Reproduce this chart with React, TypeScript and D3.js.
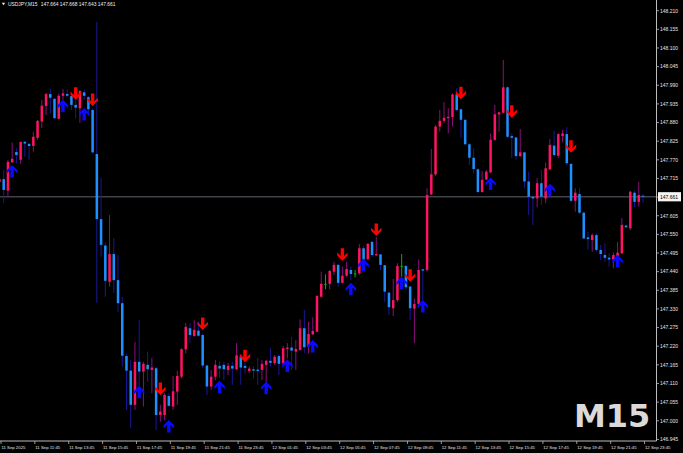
import React from 'react';
import * as d3 from 'd3';

// ---------- data (bar -1 .. 151, M15 bars from 11 Sep 09:30) ----------
const firstBar = -1;
const opens = [
  147.705,147.713,147.679,147.763,147.793,147.770,147.823,147.817,147.811,147.835,
  147.883,147.929,147.964,147.950,147.891,147.959,147.964,147.958,147.932,147.922,
  147.969,147.955,147.917,147.787,147.595,147.517,147.410,147.492,147.415,147.347,
  147.191,147.148,147.047,147.174,147.145,147.165,147.150,147.155,147.017,147.017,
  147.073,147.042,147.086,147.130,147.211,147.273,147.250,147.266,147.253,147.163,
  147.101,147.130,147.162,147.165,147.150,147.162,147.152,147.189,147.162,147.147,
  147.152,147.151,147.150,147.165,147.177,147.170,147.191,147.170,147.212,147.216,
  147.204,147.209,147.273,147.219,147.255,147.263,147.366,147.404,147.404,147.440,
  147.460,147.407,147.428,147.445,147.435,147.435,147.509,147.477,147.528,147.488,
  147.491,147.459,147.378,147.332,147.356,147.457,147.457,147.396,147.331,147.345,
  147.447,147.445,147.668,147.727,147.868,147.885,147.893,147.896,147.963,147.919,
  147.888,147.816,147.776,147.742,147.675,147.712,147.733,147.829,147.904,147.909,
  147.984,147.840,147.836,147.781,147.792,147.706,147.661,147.656,147.701,147.656,
  147.742,147.812,147.782,147.840,147.846,147.758,147.649,147.669,147.614,147.541,
  147.533,147.548,147.504,147.489,147.481,147.476,147.486,147.494,147.576,147.568,
  147.673,147.646,147.664,
];
const highs = [
  147.734,147.740,147.770,147.821,147.804,147.823,147.826,147.820,147.853,147.888,
  147.947,147.968,147.980,147.952,147.966,147.979,147.978,147.966,147.947,147.976,
  147.976,147.958,147.922,148.177,147.716,147.525,147.607,147.539,147.489,147.366,
  147.197,147.179,147.233,147.297,147.174,147.204,147.186,147.160,147.047,147.082,
  147.081,147.132,147.148,147.214,147.289,147.288,147.297,147.292,147.258,147.165,
  147.150,147.179,147.176,147.174,147.171,147.174,147.229,147.197,147.170,147.160,
  147.160,147.185,147.179,147.179,147.214,147.194,147.197,147.221,147.229,147.248,
  147.238,147.299,147.327,147.292,147.305,147.371,147.440,147.432,147.445,147.469,
  147.463,147.455,147.469,147.455,147.445,147.521,147.516,147.524,147.531,147.543,
  147.492,147.460,147.381,147.418,147.465,147.492,147.460,147.398,147.361,147.476,
  147.448,147.686,147.802,147.873,147.917,147.940,147.922,147.966,147.981,147.922,
  147.889,147.820,147.804,147.745,147.737,147.740,147.848,147.932,147.911,148.065,
  147.986,147.848,147.838,147.861,147.794,147.735,147.663,147.716,147.740,147.762,
  147.831,147.856,147.848,147.858,147.866,147.760,147.686,147.686,147.617,147.558,
  147.553,147.553,147.519,147.524,147.494,147.496,147.528,147.598,147.578,147.678,
  147.679,147.705,147.668,
];
const lows = [
  147.666,147.643,147.660,147.760,147.760,147.758,147.779,147.770,147.794,147.829,
  147.864,147.902,147.907,147.890,147.889,147.947,147.956,147.917,147.893,147.879,
  147.947,147.907,147.789,147.348,147.484,147.366,147.396,147.377,147.322,147.160,
  147.032,146.978,147.032,147.101,147.042,147.115,147.081,146.973,146.997,147.002,
  147.042,147.032,147.047,147.125,147.199,147.229,147.248,147.248,147.155,147.076,
  147.091,147.120,147.126,147.120,147.135,147.106,147.150,147.106,147.140,147.140,
  147.125,147.106,147.120,147.111,147.160,147.165,147.135,147.167,147.184,147.150,
  147.150,147.207,147.199,147.199,147.253,147.261,147.364,147.388,147.388,147.430,
  147.396,147.405,147.425,147.415,147.423,147.430,147.469,147.474,147.484,147.487,
  147.445,147.351,147.312,147.309,147.351,147.425,147.386,147.297,147.229,147.341,
  147.356,147.440,147.666,147.723,147.853,147.878,147.848,147.868,147.912,147.834,
  147.812,147.755,147.730,147.671,147.673,147.710,147.730,147.826,147.853,147.907,
  147.834,147.775,147.770,147.779,147.686,147.607,147.578,147.630,147.637,147.642,
  147.740,147.779,147.775,147.821,147.755,147.646,147.617,147.610,147.536,147.506,
  147.499,147.499,147.474,147.469,147.455,147.450,147.484,147.492,147.568,147.563,
  147.630,147.632,147.643,
];
const closes = [
  147.713,147.681,147.764,147.773,147.784,147.823,147.818,147.811,147.838,147.885,
  147.930,147.964,147.953,147.893,147.959,147.966,147.959,147.932,147.924,147.973,
  147.959,147.919,147.792,147.595,147.519,147.413,147.492,147.415,147.347,147.192,
  147.148,147.047,147.174,147.145,147.168,147.152,147.157,147.017,147.027,147.076,
  147.044,147.087,147.132,147.211,147.277,147.253,147.268,147.251,147.163,147.101,
  147.130,147.165,147.154,147.152,147.162,147.154,147.193,147.157,147.156,147.154,
  147.148,147.147,147.168,147.177,147.171,147.189,147.168,147.214,147.216,147.207,
  147.212,147.273,147.217,147.256,147.265,147.368,147.404,147.404,147.442,147.460,
  147.407,147.428,147.448,147.433,147.435,147.509,147.476,147.522,147.489,147.492,
  147.460,147.381,147.335,147.356,147.457,147.457,147.394,147.332,147.345,147.445,
  147.443,147.666,147.727,147.868,147.885,147.894,147.897,147.963,147.917,147.888,
  147.816,147.776,147.743,147.675,147.711,147.735,147.829,147.904,147.910,147.984,
  147.838,147.835,147.781,147.792,147.706,147.661,147.656,147.701,147.661,147.745,
  147.814,147.784,147.846,147.848,147.760,147.649,147.673,147.614,147.538,147.536,
  147.548,147.504,147.492,147.481,147.476,147.489,147.496,147.578,147.571,147.676,
  147.646,147.666,147.661,
];

const sellArrowBars = [17, 21, 37, 47, 57, 80, 88, 96, 108, 120, 134];
const sellArrowPrices = [147.947, 147.929, 147.076, 147.268, 147.173, 147.472, 147.545, 147.410, 147.949, 147.894, 147.791];
const buyArrowBars = [2, 14, 19, 32, 39, 51, 62, 67, 73, 82, 85, 94, 99, 115, 129, 145];
const buyArrowPrices = [147.755, 147.947, 147.923, 147.103, 147.002, 147.118, 147.115, 147.181, 147.238, 147.407, 147.477, 147.425, 147.356, 147.718, 147.699, 147.489];

const priceLabels = [
  '148.210','148.155','148.100','148.045','147.990','147.935','147.880','147.825',
  '147.770','147.715','147.660','147.605','147.550','147.495','147.440','147.385',
  '147.330','147.275','147.220','147.165','147.110','147.055','147.000','146.945',
];
const timeLabels = [
  '11 Sep 2025','11 Sep 11:45','11 Sep 13:45','11 Sep 15:45','11 Sep 17:45',
  '11 Sep 19:45','11 Sep 21:45','11 Sep 23:45','12 Sep 01:45','12 Sep 03:45',
  '12 Sep 05:45','12 Sep 07:45','12 Sep 09:45','12 Sep 11:45','12 Sep 13:45',
  '12 Sep 15:45','12 Sep 17:45','12 Sep 19:45','12 Sep 21:45','12 Sep 23:45',
];
const timeLabelBars = [0,8,16,24,32,40,48,56,64,72,80,88,96,104,112,120,128,136,144,152];
const symbolName = 'USDJPY,M15';
const lastBarOHLC = ['147.664', '147.668', '147.643', '147.661'];
const bidPrice = 147.661;
const timeframeText = 'M15';

// ---------- layout ----------
const W = 683;
const H = 453;
const PLOT_R = 656.5;
const PLOT_B = 441;
const FONT = '"Liberation Sans", Arial, sans-serif';

const BULL = '#ff1464';
const BEAR = '#1e90ff';
const BULL_WICK = '#8a0f7a';
const BEAR_WICK = '#18189a';
const DOJI = '#00b400';

export default function App() {
  const x = d3.scaleLinear().domain([0, 151]).range([3.7, 643.0]);
  const y = d3.scaleLinear().domain([146.945, 148.21]).range([439.4, 10.7]);

  const bars = opens.map((o, i) => ({
    bar: firstBar + i, o, h: highs[i], l: lows[i], c: closes[i],
  }));

  const arrowUp = 'M0,0 L5.2,5.2 L5.2,8.3 L1.7,4.8 L1.7,12.5 L-1.7,12.5 L-1.7,4.8 L-5.2,8.3 L-5.2,5.2 Z';
  const arrowDown = 'M0,0 L5.2,-5.2 L5.2,-8.3 L1.7,-4.8 L1.7,-12.5 L-1.7,-12.5 L-1.7,-4.8 L-5.2,-8.3 L-5.2,-5.2 Z';

  const bodyW = 2.5;

  return (
    <svg width={W} height={H} style={{ position: 'fixed', left: 0, top: 0, display: 'block' }}>
      <defs>
        <clipPath id="plot">
          <rect x={0} y={0} width={PLOT_R} height={PLOT_B} />
        </clipPath>
      </defs>
      <rect x={0} y={0} width={W} height={H} fill="#000" />

      <g clipPath="url(#plot)">
        {/* bid line */}
        <line x1={0} x2={PLOT_R} y1={y(bidPrice)} y2={y(bidPrice)} stroke="#3e4248" strokeWidth={1.6} />

        {bars.map((b) => {
          const cx = x(b.bar);
          const up = b.c > b.o;
          const doji = b.c === b.o;
          const bodyCol = doji ? DOJI : up ? BULL : BEAR;
          const wickCol = doji ? DOJI : up ? BULL_WICK : BEAR_WICK;
          const top = y(Math.max(b.o, b.c));
          const bot = y(Math.min(b.o, b.c));
          return (
            <g key={b.bar}>
              <line x1={cx} x2={cx} y1={y(b.h)} y2={y(b.l)} stroke={wickCol} strokeWidth={1} />
              <rect x={cx - bodyW / 2} y={top} width={bodyW} height={Math.max(1, bot - top)} fill={bodyCol} />
            </g>
          );
        })}

        {sellArrowBars.map((bi, i) => (
          <path key={'s' + bi} d={arrowDown} fill="#ff0000"
            transform={`translate(${x(bi)},${y(sellArrowPrices[i])})`} />
        ))}
        {buyArrowBars.map((bi, i) => (
          <path key={'b' + bi} d={arrowUp} fill="#0a0aff"
            transform={`translate(${x(bi)},${y(buyArrowPrices[i])})`} />
        ))}
      </g>

      {/* axes */}
      <line x1={PLOT_R} x2={PLOT_R} y1={0} y2={PLOT_B} stroke="#bcbcbc" strokeWidth={1} />
      <line x1={0} x2={PLOT_R} y1={PLOT_B} y2={PLOT_B} stroke="#bcbcbc" strokeWidth={1} />

      {priceLabels.map((p) => {
        const yy = y(+p);
        return (
          <g key={p}>
            <line x1={PLOT_R} x2={PLOT_R + 2.5} y1={yy} y2={yy} stroke="#bcbcbc" strokeWidth={0.8} />
            <text x={660} y={yy} dy="0.36em" fontFamily={FONT} fontSize={5} fill="#e4e4e4">{p}</text>
          </g>
        );
      })}

      {/* bid price box */}
      <rect x={658} y={y(bidPrice) - 4.6} width={23} height={9.2} fill="#f4f4f4" />
      <text x={660} y={y(bidPrice)} dy="0.36em" fontFamily={FONT} fontSize={5} fill="#000">{bidPrice.toFixed(3)}</text>

      {timeLabels.map((t, i) => {
        const tx = x(timeLabelBars[i] - 0.64);
        return (
          <g key={t}>
            <line x1={tx} x2={tx} y1={PLOT_B} y2={PLOT_B + 3} stroke="#bcbcbc" strokeWidth={0.8} />
            <text x={Math.max(0.3, tx + 0.4)} y={448.8} fontFamily={FONT} fontSize={4.3} fill="#e4e4e4">{t}</text>
          </g>
        );
      })}

      {/* header */}
      <path d="M1.7,2.7 L5.3,2.7 L3.5,5.3 Z" fill="#e8e8e8" />
      <text x={8} y={5.9} fontFamily={FONT} fontSize={4.9} fill="#f0f0f0">{symbolName}</text>
      <text x={40.7} y={5.9} fontFamily={FONT} fontSize={4.9} fill="#f0f0f0">{lastBarOHLC.join(' ')}</text>

      {/* timeframe watermark */}
      <text x={574} y={427} fontFamily='"DejaVu Sans", sans-serif' fontWeight="bold" fontSize={32} fill="#dadada">{timeframeText}</text>
    </svg>
  );
}
